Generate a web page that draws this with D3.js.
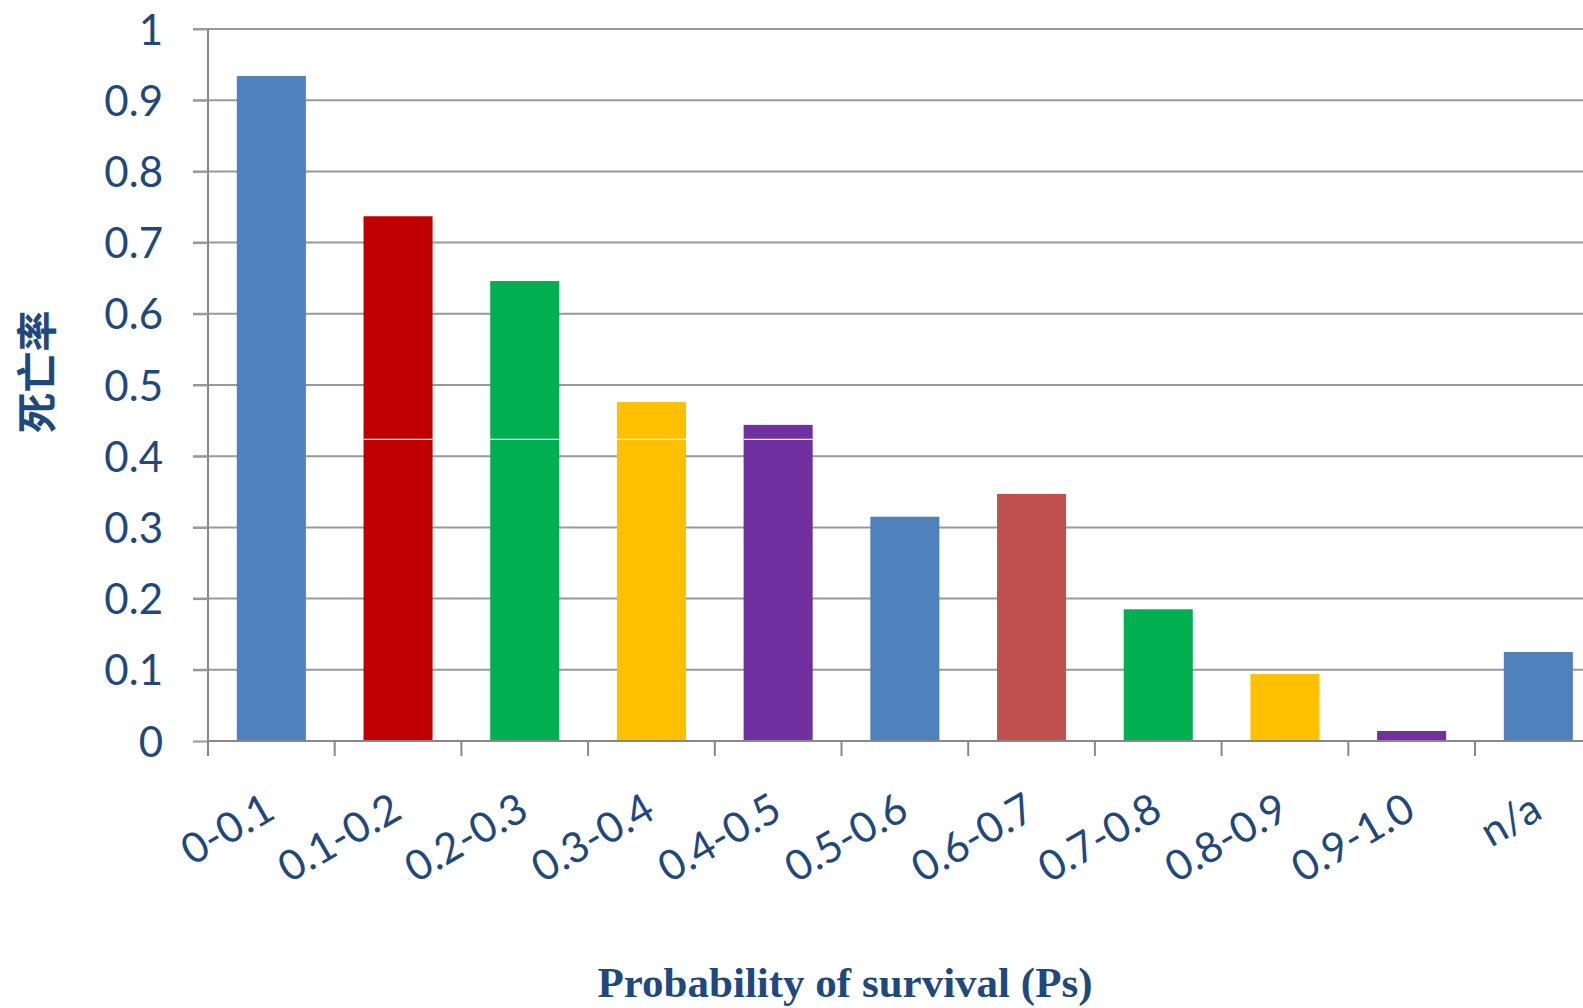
<!DOCTYPE html>
<html><head><meta charset="utf-8">
<script src="https://d3js.org/d3.v7.min.js"></script>
<style>body{margin:0;background:#fff;} svg{display:block;}</style>
</head><body>
<script>
const categories = ["0-0.1","0.1-0.2","0.2-0.3","0.3-0.4","0.4-0.5","0.5-0.6","0.6-0.7","0.7-0.8","0.8-0.9","0.9-1.0","n/a"];
const values = [0.934, 0.737, 0.646, 0.476, 0.444, 0.315, 0.347, 0.185, 0.094, 0.014, 0.125];
const colors = ["#4F81BD","#C00000","#00B050","#FFC000","#7030A0","#4F81BD","#C0504D","#00B050","#FFC000","#7030A0","#4F81BD"];
const splitValue = 0.4237; // thin white division visible in some bars
const yTicks = [0,0.1,0.2,0.3,0.4,0.5,0.6,0.7,0.8,0.9,1];
const yTitle = "死亡率";
const xTitle = "Probability of survival (Ps)";

const W = 1583, H = 1008;
const left = 208, step = 126.7;
const svg = d3.select("body").append("svg").attr("width", W).attr("height", H);

const x = d3.scaleBand().domain(categories).range([left, left + step*categories.length]).padding(0);
const y = d3.scaleLinear().domain([0,1]).range([741, 29]);
const textColor = "#1F497D";
const barW = x.bandwidth()*0.545;

// gridlines
svg.append("g").selectAll("line").data(yTicks.filter(d=>d>0)).join("line")
  .attr("x1", 193).attr("x2", W).attr("y1", d=>y(d)).attr("y2", d=>y(d))
  .attr("stroke", "#999").attr("stroke-width", 2);

// bars
svg.append("g").selectAll("rect").data(values).join("rect")
  .attr("x", (d,i)=>x(categories[i]) + (x.bandwidth()-barW)/2)
  .attr("width", barW)
  .attr("y", d=>y(d)).attr("height", d=>y(0)-y(d))
  .attr("fill", (d,i)=>colors[i]);

// white division lines
svg.append("g").selectAll("line").data(values.map((v,i)=>({v,i})).filter(d=>d.i>0 && d.v>splitValue)).join("line")
  .attr("x1", d=>x(categories[d.i]) + (x.bandwidth()-barW)/2)
  .attr("x2", d=>x(categories[d.i]) + (x.bandwidth()+barW)/2)
  .attr("y1", y(splitValue)).attr("y2", y(splitValue))
  .attr("stroke", "#fff").attr("stroke-width", 1.3);

// y axis
const yAxis = svg.append("g").attr("transform", `translate(${left},0)`)
  .call(d3.axisLeft(y).tickValues(yTicks).tickSize(15).tickPadding(30).tickFormat(d=>d3.format("")(d)));
yAxis.select(".domain").attr("stroke","#888").attr("stroke-width",2).attr("d", `M0,${y(1)}V${y(0)+15}`);
yAxis.selectAll(".tick line").attr("stroke","#999").attr("stroke-width",2);
yAxis.selectAll(".tick text").attr("fill", textColor).attr("font-family","Lato, 'Open Sans', sans-serif").attr("font-size", 42).attr("dy","0.36em");

// x axis
const xAxis = svg.append("g").attr("transform", `translate(0,${y(0)})`);
xAxis.append("line").attr("x1", left).attr("x2", W).attr("y1",0).attr("y2",0).attr("stroke","#888").attr("stroke-width",2);
xAxis.selectAll("line.tk").data(categories.concat(["_end"])).join("line").attr("class","tk")
  .attr("x1",(d,i)=>left + i*x.step()).attr("x2",(d,i)=>left + i*x.step())
  .attr("y1",0).attr("y2",15).attr("stroke","#888").attr("stroke-width",2);
xAxis.selectAll("text").data(categories).join("text")
  .attr("transform", d=>`translate(${x(d)+x.bandwidth()/2+6},${76}) rotate(-30)`)
  .attr("text-anchor","end")
  .attr("fill", textColor).attr("font-family","Lato, 'Open Sans', sans-serif").attr("font-size", 42)
  .text(d=>d);

// titles
svg.append("text").attr("transform","translate(52,372) rotate(-90)").attr("text-anchor","middle")
  .attr("fill", textColor).attr("font-family","'Noto Sans CJK SC', sans-serif").attr("font-weight","bold").attr("font-size",41)
  .text(yTitle);
svg.append("text").attr("x", 845).attr("y", 997).attr("text-anchor","middle")
  .attr("fill", textColor).attr("font-family","'Liberation Serif', 'Times New Roman', serif").attr("font-weight","bold").attr("font-size",43)
  .text(xTitle);
</script>
</body></html>
